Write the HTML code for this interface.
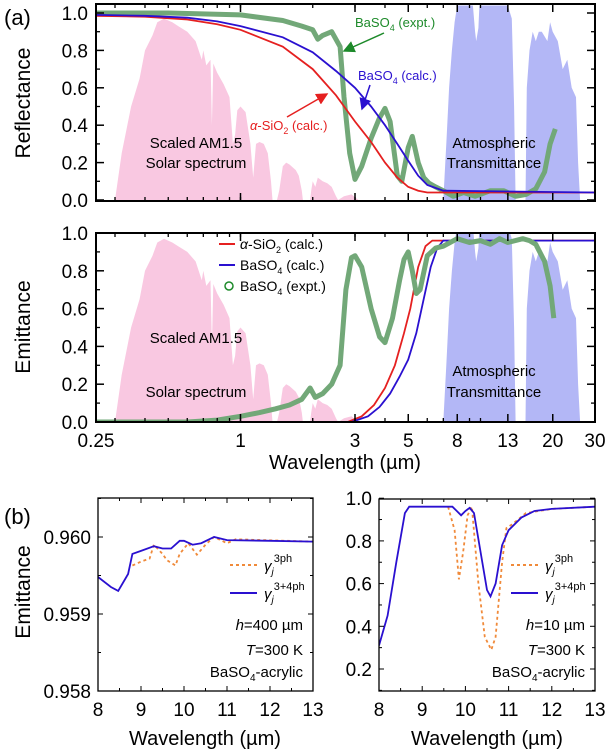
<!DOCTYPE html>
<html><head><meta charset="utf-8"><style>
html,body{margin:0;padding:0;background:#fff;}
svg{display:block;font-family:"Liberation Sans",sans-serif;}
</style></head><body>
<svg id="fig" width="612" height="752" viewBox="0 0 612 752" xmlns="http://www.w3.org/2000/svg">
<defs>
<clipPath id="cA1"><rect x="96" y="4" width="499" height="197"/></clipPath>
<clipPath id="cA2"><rect x="96" y="233" width="499" height="189"/></clipPath>
<clipPath id="cB1"><rect x="98" y="498" width="215" height="193"/></clipPath>
<clipPath id="cB2"><rect x="379" y="499" width="216" height="192"/></clipPath>
<marker id="arrG" markerWidth="8" markerHeight="8" refX="7" refY="4" orient="auto"><path d="M0,0 L8,4 L0,8 z" fill="#1d8a2a"/></marker>
<marker id="arrB" markerWidth="8" markerHeight="8" refX="7" refY="4" orient="auto"><path d="M0,0 L8,4 L0,8 z" fill="#2a10d0"/></marker>
<marker id="arrR" markerWidth="8" markerHeight="8" refX="7" refY="4" orient="auto"><path d="M0,0 L8,4 L0,8 z" fill="#e52020"/></marker>
</defs>
<g id="layer"></g>
<text x="4" y="25" font-size="22">(a)</text>
<text x="4" y="524" font-size="22">(b)</text>
<text transform="translate(30,103) rotate(-90)" text-anchor="middle" font-size="21">Reflectance</text>
<text transform="translate(30,327) rotate(-90)" text-anchor="middle" font-size="21">Emittance</text>
<text x="345" y="469" text-anchor="middle" font-size="20">Wavelength (µm)</text>
<text transform="translate(30,592) rotate(-90)" text-anchor="middle" font-size="21">Emittance</text>
<text x="205" y="745" text-anchor="middle" font-size="20">Wavelength (µm)</text>
<text x="487" y="745" text-anchor="middle" font-size="20">Wavelength (µm)</text>

<g font-size="15" text-anchor="middle">
<text x="196" y="148">Scaled AM1.5</text>
<text x="196" y="168">Solar spectrum</text>
<text x="494" y="148">Atmospheric</text>
<text x="494" y="168">Transmittance</text>
<text x="196" y="343">Scaled AM1.5</text>
<text x="196" y="397">Solar spectrum</text>
<text x="494" y="376">Atmospheric</text>
<text x="494" y="397">Transmittance</text>
</g>
<g font-size="13">
<text x="355" y="27" fill="#1d8a2a">BaSO<tspan font-size="9" dy="4">4</tspan><tspan dy="-4"> (expt.)</tspan></text>
<line x1="384" y1="33" x2="344" y2="51" stroke="#1d8a2a" stroke-width="1.5" marker-end="url(#arrG)"/>
<text x="358" y="80" fill="#2a10d0">BaSO<tspan font-size="9" dy="4">4</tspan><tspan dy="-4"> (calc.)</tspan></text>
<line x1="370" y1="85" x2="362" y2="109" stroke="#2a10d0" stroke-width="1.5" marker-end="url(#arrB)"/>
<text x="250" y="130" fill="#e52020"><tspan font-style="italic">α</tspan>-SiO<tspan font-size="9" dy="4">2</tspan><tspan dy="-4"> (calc.)</tspan></text>
<line x1="287" y1="117" x2="327" y2="94" stroke="#e52020" stroke-width="1.5" marker-end="url(#arrR)"/>
</g>
<g font-size="14">
<line x1="219" y1="244" x2="235" y2="244" stroke="#e52020" stroke-width="2"/>
<text x="240" y="249"><tspan font-style="italic">α</tspan>-SiO<tspan font-size="9" dy="4">2</tspan><tspan dy="-4"> (calc.)</tspan></text>
<line x1="219" y1="265" x2="235" y2="265" stroke="#2a10d0" stroke-width="2"/>
<text x="240" y="270">BaSO<tspan font-size="9" dy="4">4</tspan><tspan dy="-4"> (calc.)</tspan></text>
<circle cx="229" cy="286" r="4" fill="none" stroke="#1d8a2a" stroke-width="1.5"/>
<text x="240" y="291">BaSO<tspan font-size="9" dy="4">4</tspan><tspan dy="-4"> (expt.)</tspan></text>
</g>
<g font-size="15">
<line x1="230" y1="565" x2="257" y2="565" stroke="#f08a3a" stroke-width="2" stroke-dasharray="3,3"/>
<text x="264" y="571" font-style="italic">γ<tspan font-size="10" dy="4">j</tspan><tspan font-size="11" font-style="normal" dy="-13">3ph</tspan></text>
<line x1="230" y1="593" x2="257" y2="593" stroke="#2a10d0" stroke-width="2"/>
<text x="264" y="599" font-style="italic">γ<tspan font-size="10" dy="4">j</tspan><tspan font-size="11" font-style="normal" dy="-13">3+4ph</tspan></text>
<text x="303" y="630" text-anchor="end"><tspan font-style="italic">h</tspan>=400 µm</text>
<text x="303" y="655" text-anchor="end"><tspan font-style="italic">T</tspan>=300 K</text>
<text x="303" y="677" text-anchor="end">BaSO<tspan font-size="10" dy="4">4</tspan><tspan dy="-4">-acrylic</tspan></text>
</g>
<g font-size="15">
<line x1="511" y1="565" x2="538" y2="565" stroke="#f08a3a" stroke-width="2" stroke-dasharray="3,3"/>
<text x="545" y="571" font-style="italic">γ<tspan font-size="10" dy="4">j</tspan><tspan font-size="11" font-style="normal" dy="-13">3ph</tspan></text>
<line x1="511" y1="593" x2="538" y2="593" stroke="#2a10d0" stroke-width="2"/>
<text x="545" y="599" font-style="italic">γ<tspan font-size="10" dy="4">j</tspan><tspan font-size="11" font-style="normal" dy="-13">3+4ph</tspan></text>
<text x="585" y="630" text-anchor="end"><tspan font-style="italic">h</tspan>=10 µm</text>
<text x="585" y="655" text-anchor="end"><tspan font-style="italic">T</tspan>=300 K</text>
<text x="585" y="677" text-anchor="end">BaSO<tspan font-size="10" dy="4">4</tspan><tspan dy="-4">-acrylic</tspan></text>
</g>
</svg>
<script>
const solarWl = [0.30,0.32,0.35,0.38,0.40,0.43,0.45,0.48,0.52,0.55,0.60,0.65,0.69,0.70,0.72,0.75,0.76,0.77,0.80,0.85,0.90,0.93,0.95,0.97,1.00,1.05,1.10,1.13,1.16,1.20,1.25,1.30,1.34,1.36,1.42,1.45,1.50,1.55,1.60,1.70,1.75,1.80,1.82,1.95,1.97,2.00,2.05,2.10,2.20,2.30,2.40,2.50,2.55,2.70,2.90,3.10];
const solarVal = [0,0.25,0.5,0.65,0.8,0.88,0.95,0.97,0.95,0.93,0.9,0.85,0.75,0.8,0.72,0.75,0.4,0.73,0.68,0.62,0.55,0.3,0.35,0.48,0.5,0.47,0.3,0.12,0.3,0.31,0.3,0.25,0.1,0,0,0.05,0.18,0.2,0.19,0.16,0.13,0.05,0,0,0.05,0.1,0.07,0.12,0.1,0.09,0.07,0.02,0,0.02,0.03,0];
const atmWl = [7.0,7.2,7.4,7.6,7.8,8,9.3,9.5,9.6,9.8,9.9,13,13.5,13.8,14,15.4,15.6,16,16.5,17,17.5,18,19,19.5,20,21,22,23,24,25,25.5,26];
const atmVal = [0,0.3,0.6,0.8,0.95,1.04,1.04,0.9,0.85,0.92,1.04,1.04,0.97,0.5,0,0,0.6,0.8,0.9,0.85,0.9,0.9,0.85,0.95,0.9,0.85,0.7,0.75,0.6,0.55,0.2,0];
const reflRedWl = [0.25,0.4,0.6,0.8,1,1.5,2,2.5,3,3.5,4,4.5,5,5.5,6,30];
const reflRed = [0.985,0.98,0.965,0.94,0.91,0.82,0.70,0.56,0.42,0.31,0.2,0.12,0.07,0.05,0.04,0.04];
const reflBlueWl = [0.25,0.4,0.6,0.8,1,1.5,2,2.5,3,3.5,4,4.5,5,5.5,6,7,30];
const reflBlue = [0.99,0.985,0.975,0.955,0.93,0.87,0.79,0.69,0.6,0.5,0.4,0.3,0.21,0.13,0.08,0.05,0.04];
const reflExpWl = [0.25,0.5,1,1.5,1.8,2.0,2.1,2.2,2.4,2.6,2.7,2.85,3.0,3.2,3.5,3.8,4.0,4.2,4.5,4.7,5.0,5.2,5.5,5.8,6.1,6.5,7,7.7,8.5,9.5,11,12.5,14,15.5,17,18.5,19.5,20.5];
const reflExp = [1.0,1.0,0.99,0.96,0.93,0.91,0.86,0.88,0.9,0.82,0.55,0.25,0.11,0.18,0.33,0.44,0.49,0.42,0.13,0.1,0.28,0.34,0.2,0.12,0.09,0.07,0.05,0.02,0.04,0.02,0.05,0.05,0.02,0.03,0.06,0.15,0.3,0.38];
const emRedWl = [0.25,2.8,3.2,3.6,4.0,4.4,4.8,5.1,5.5,5.9,6.3,30];
const emRed = [0,0,0.03,0.09,0.18,0.3,0.47,0.6,0.82,0.93,0.96,0.96];
const emBlueWl = [0.25,2.9,3.4,3.8,4.2,4.6,5.0,5.4,5.8,6.2,6.6,7.0,30];
const emBlue = [0,0,0.03,0.08,0.15,0.24,0.33,0.47,0.65,0.82,0.92,0.96,0.96];
const emExpWl = [0.25,0.6,0.8,1.0,1.2,1.4,1.6,1.8,1.95,2.05,2.2,2.4,2.6,2.75,2.9,3.0,3.2,3.5,3.8,4.0,4.3,4.6,4.8,5.0,5.2,5.4,5.6,6.0,6.5,7,8,9,10,11,12,13,15,16,17,18.5,19.5,20.2];
const emExp = [0,0,0.01,0.03,0.05,0.07,0.09,0.12,0.18,0.13,0.15,0.2,0.3,0.7,0.87,0.88,0.82,0.6,0.45,0.42,0.55,0.75,0.86,0.9,0.8,0.68,0.7,0.88,0.92,0.93,0.97,0.95,0.96,0.94,0.97,0.95,0.97,0.96,0.94,0.85,0.72,0.55];
const bWl = [8,8.3,8.47,8.7,8.8,9.0,9.3,9.5,9.7,9.9,10.0,10.2,10.4,10.7,11,12,13];
const bLeft34 = [0.95948,0.95935,0.95930,0.95952,0.95978,0.95982,0.95988,0.95985,0.95985,0.95995,0.95995,0.95990,0.95992,0.96000,0.95996,0.95995,0.95994];
const bLeft3Wl = [8.8,9.0,9.2,9.3,9.5,9.6,9.8,9.9,10.1,10.3,10.5,10.7,11,11.2,13];
const bLeft3 = [0.95963,0.95968,0.95972,0.95990,0.95978,0.95970,0.95963,0.95978,0.95992,0.95977,0.95990,0.96000,0.95992,0.95997,0.95994];
const bRWl = [8,8.2,8.4,8.6,8.7,9.7,9.8,9.9,10.0,10.1,10.2,10.35,10.5,10.58,10.7,10.85,11.0,11.3,11.6,12,13];
const bRight34 = [0.31,0.45,0.7,0.93,0.96,0.96,0.94,0.92,0.94,0.955,0.93,0.75,0.57,0.54,0.6,0.78,0.85,0.91,0.94,0.95,0.96];
const bR3Wl = [9.6,9.75,9.85,9.95,10.05,10.15,10.3,10.45,10.6,10.7,10.85,10.95,11.1,11.4,12,13];
const bRight3 = [0.96,0.85,0.62,0.75,0.92,0.96,0.6,0.35,0.29,0.35,0.7,0.86,0.88,0.93,0.95,0.96];
const aTicks = [0.25,1,3,5,8,13,20,30];
const aTickLabels = ["0.25","1","3","5","8","13","20","30"];
const yTicksA = [0,0.2,0.4,0.6,0.8,1.0];
const yTicksBL = [0.958,0.959,0.960];
const yTicksBR = [0.2,0.4,0.6,0.8,1.0];
const xTicksB = [8,9,10,11,12,13];

const NS="http://www.w3.org/2000/svg";
const layer=document.getElementById('layer');
function mk(tag,attrs,parent){const e=document.createElementNS(NS,tag);for(const k in attrs)e.setAttribute(k,attrs[k]);(parent||layer).appendChild(e);return e;}
const xa=v=>96+240*Math.log10(v/0.25);
const ya1=v=>200-187*v;
const ya2=v=>422-189*v;
const xb1=v=>98+43*(v-8);
const yb1=v=>537-77000*(v-0.960);
const xb2=v=>379+43.2*(v-8);
const yb2=v=>669-213.5*(v-0.2);

function linePath(xs,ys,fx,fy){return xs.map((x,i)=>(i?'L':'M')+fx(x).toFixed(1)+','+fy(ys[i]).toFixed(1)).join(' ');}
function areaPath(xs,ys,fx,fy,y0){return 'M'+fx(xs[0]).toFixed(1)+','+y0+' '+xs.map((x,i)=>'L'+fx(x).toFixed(1)+','+fy(ys[i]).toFixed(1)).join(' ')+' L'+fx(xs[xs.length-1]).toFixed(1)+','+y0+' Z';}

const gA1=mk('g',{'clip-path':'url(#cA1)'});
let e;
e=mk('path',{d:areaPath(solarWl,solarVal,xa,ya1,200),fill:'#f9c8e1'},gA1);


e=mk('path',{d:areaPath(atmWl,atmVal,xa,ya1,200),fill:'#b3b7f6'},gA1);


e=mk('path',{d:linePath(reflExpWl,reflExp,xa,ya1),fill:'none',stroke:'#72a878',"stroke-width":5,"stroke-linejoin":"round"},gA1);


e=mk('path',{d:linePath(reflRedWl,reflRed,xa,ya1),fill:'none',stroke:'#e52020',"stroke-width":1.8},gA1);


e=mk('path',{d:linePath(reflBlueWl,reflBlue,xa,ya1),fill:'none',stroke:'#2a10d0',"stroke-width":1.8},gA1);



const gA2=mk('g',{'clip-path':'url(#cA2)'});
e=mk('path',{d:areaPath(solarWl,solarVal,xa,ya2,422),fill:'#f9c8e1'},gA2);


e=mk('path',{d:areaPath(atmWl,atmVal,xa,ya2,422),fill:'#b3b7f6'},gA2);


e=mk('path',{d:linePath(emRedWl,emRed,xa,ya2),fill:'none',stroke:'#e52020',"stroke-width":1.8},gA2);


e=mk('path',{d:linePath(emBlueWl,emBlue,xa,ya2),fill:'none',stroke:'#2a10d0',"stroke-width":1.8},gA2);


e=mk('path',{d:linePath(emExpWl,emExp,xa,ya2),fill:'none',stroke:'#72a878',"stroke-width":5,"stroke-linejoin":"round"},gA2);



const gB1=mk('g',{'clip-path':'url(#cB1)'});
e=mk('path',{d:linePath(bLeft3Wl,bLeft3,xb1,yb1),fill:'none',stroke:'#f08a3a',"stroke-width":1.8,"stroke-dasharray":"3,3"},gB1);


e=mk('path',{d:linePath(bWl,bLeft34,xb1,yb1),fill:'none',stroke:'#2a10d0',"stroke-width":1.8},gB1);


const gB2=mk('g',{'clip-path':'url(#cB2)'});
e=mk('path',{d:linePath(bR3Wl,bRight3,xb2,yb2),fill:'none',stroke:'#f08a3a',"stroke-width":1.8,"stroke-dasharray":"3,3"},gB2);


e=mk('path',{d:linePath(bRWl,bRight34,xb2,yb2),fill:'none',stroke:'#2a10d0',"stroke-width":1.8},gB2);



function frame(x,y,w,h,name,sw){const r=mk('rect',{x:x,y:y,width:w,height:h,fill:'none',stroke:'#000','stroke-width':sw});}
frame(96,4,499,197,'plot-frame-reflectance',2);
frame(96,233,499,189,'plot-frame-emittance',2);
frame(98,498,215,193,'plot-frame-b-left',1.3);
frame(379,499,216,192,'plot-frame-b-right',1.3);

const minors=[];
for(let d=0.1;d<100;d*=10){for(let k=1;k<10;k++){const v=k*d;if(v>=0.25&&v<=30)minors.push(v);}}
minors.forEach(v=>{const x=xa(v);[[201,197],[4,8],[422,418],[233,237]].forEach(p=>mk('line',{x1:x,y1:p[0],x2:x,y2:p[1],stroke:'#000','stroke-width':1.3}));});
aTicks.forEach(v=>{const x=xa(v);[[201,193],[4,12],[422,414],[233,241]].forEach(p=>mk('line',{x1:x,y1:p[0],x2:x,y2:p[1],stroke:'#000','stroke-width':1.5}));});
aTickLabels.forEach((t,i)=>{const el=mk('text',{x:xa(aTicks[i]),y:447,'text-anchor':'middle','font-size':19});el.textContent=t;

});
yTicksA.forEach(v=>{
 [[ya1,'y-tick-label-reflectance'],[ya2,'y-tick-label-emittance']].forEach(p=>{const y=p[0](v);
 mk('line',{x1:96,y1:y,x2:104,y2:y,stroke:'#000','stroke-width':1.5});mk('line',{x1:595,y1:y,x2:587,y2:y,stroke:'#000','stroke-width':1.5});
 const ym=p[0](v+0.1);if(v<1){mk('line',{x1:96,y1:ym,x2:100,y2:ym,stroke:'#000','stroke-width':1.3});mk('line',{x1:595,y1:ym,x2:591,y2:ym,stroke:'#000','stroke-width':1.3});}
 const el=mk('text',{x:88,y:y+7,'text-anchor':'end','font-size':19});el.textContent=v.toFixed(1);
 
 });
});
xTicksB.forEach(v=>{
 [[xb1,691,498],[xb2,691,499]].forEach(p=>{const x=p[0](v);mk('line',{x1:x,y1:p[1],x2:x,y2:p[1]-5,stroke:'#000'});mk('line',{x1:x,y1:p[2],x2:x,y2:p[2]+5,stroke:'#000'});
 if(v<13){const xm=p[0](v+0.5);mk('line',{x1:xm,y1:p[1],x2:xm,y2:p[1]-3,stroke:'#000'});mk('line',{x1:xm,y1:p[2],x2:xm,y2:p[2]+3,stroke:'#000'});}
 const el=mk('text',{x:x,y:716,'text-anchor':'middle','font-size':19});el.textContent=String(v);
 
 });
});
yTicksBL.forEach(v=>{const y=yb1(v);mk('line',{x1:98,y1:y,x2:103,y2:y,stroke:'#000'});mk('line',{x1:313,y1:y,x2:308,y2:y,stroke:'#000'});
 const ym=yb1(v+0.0005);if(ym>498){mk('line',{x1:98,y1:ym,x2:101,y2:ym,stroke:'#000'});mk('line',{x1:313,y1:ym,x2:310,y2:ym,stroke:'#000'});}
 const el=mk('text',{x:91,y:y+7,'text-anchor':'end','font-size':19});el.textContent=v.toFixed(3);
 
 });
yTicksBR.forEach(v=>{const y=yb2(v);mk('line',{x1:379,y1:y,x2:384,y2:y,stroke:'#000'});mk('line',{x1:595,y1:y,x2:590,y2:y,stroke:'#000'});
 const ym=yb2(v-0.1);mk('line',{x1:379,y1:ym,x2:382,y2:ym,stroke:'#000'});mk('line',{x1:595,y1:ym,x2:592,y2:ym,stroke:'#000'});
 const el=mk('text',{x:372,y:y+7,'text-anchor':'end','font-size':19});el.textContent=v.toFixed(1);
 
 });
</script>
</body></html>
